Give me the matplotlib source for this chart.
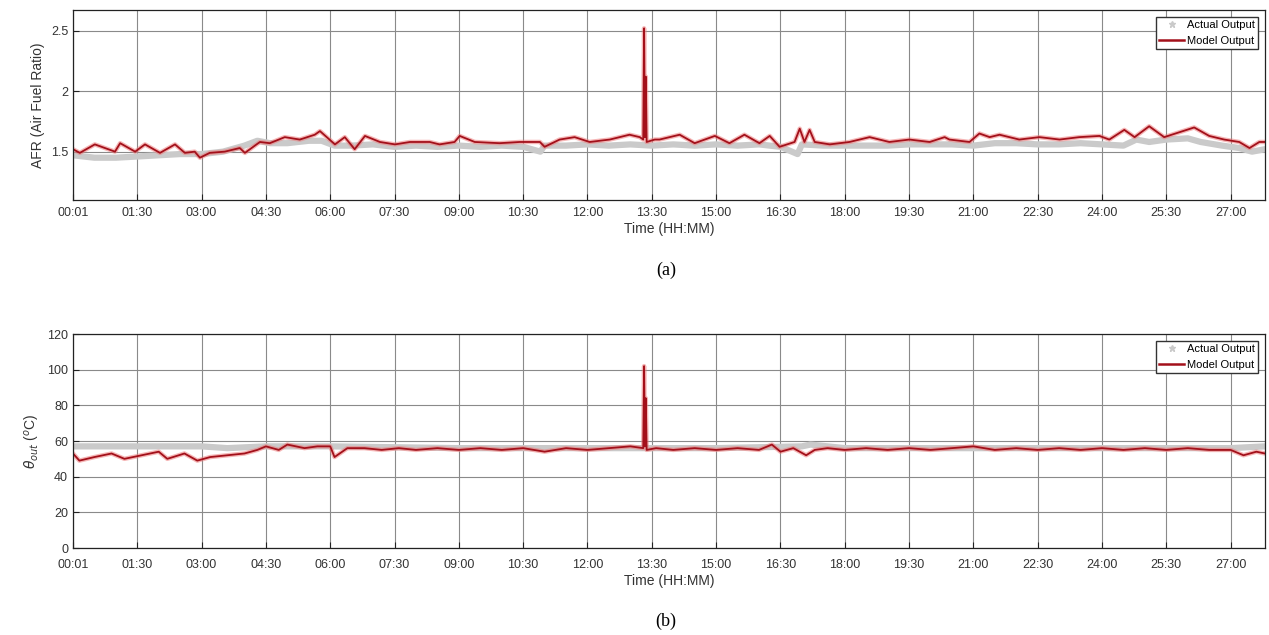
import matplotlib
matplotlib.use('Agg')
import matplotlib.pyplot as plt
from matplotlib.lines import Line2D

plt.rcParams['font.family'] = ['Liberation Sans', 'DejaVu Sans']

# time axis (hours from start)
tick_hours = [0, 1.5, 3, 4.5, 6, 7.5, 9, 10.5, 12, 13.5, 15, 16.5, 18, 19.5, 21, 22.5, 24, 25.5, 27]
tick_labels = ['00:01', '01:30', '03:00', '04:30', '06:00', '07:30', '09:00', '10:30', '12:00',
               '13:30', '15:00', '16:30', '18:00', '19:30', '21:00', '22:30', '24:00', '25:30', '27:00']

# (a) AFR - model output
afr_model_t = [0.0, 0.16, 0.51, 0.98, 1.10, 1.45, 1.68, 2.03, 2.38, 2.61, 2.84, 2.96, 3.19, 3.54,
               3.89, 4.01, 4.36, 4.59, 4.94, 5.29, 5.64, 5.76, 6.11, 6.34, 6.57, 6.81, 7.16, 7.51,
               7.86, 8.32, 8.55, 8.90, 9.02, 9.37, 9.95, 10.42, 10.89, 11.00, 11.35, 11.70, 12.05,
               12.52, 12.98, 13.22, 13.30, 13.32, 13.34, 13.36, 13.38, 13.57, 13.68, 14.15, 14.50,
               14.97, 15.31, 15.66, 16.01, 16.25, 16.48, 16.83, 16.95, 17.06, 17.18, 17.30, 17.65,
               18.11, 18.58, 19.04, 19.51, 19.98, 20.33, 20.44, 20.91, 21.14, 21.38, 21.61, 22.07,
               22.54, 23.01, 23.47, 23.94, 24.17, 24.52, 24.76, 25.10, 25.45, 25.80, 26.15, 26.50,
               26.85, 27.20, 27.44, 27.67, 27.79]
afr_model = [1.52, 1.49, 1.56, 1.50, 1.57, 1.50, 1.56, 1.49, 1.56, 1.49, 1.50, 1.45, 1.49, 1.50,
             1.53, 1.49, 1.58, 1.57, 1.62, 1.60, 1.64, 1.67, 1.56, 1.62, 1.52, 1.63, 1.58, 1.56,
             1.58, 1.58, 1.56, 1.58, 1.63, 1.58, 1.57, 1.58, 1.58, 1.54, 1.60, 1.62, 1.58,
             1.60, 1.64, 1.62, 1.60, 2.52, 1.62, 2.12, 1.58, 1.60, 1.60, 1.64, 1.57,
             1.63, 1.57, 1.64, 1.57, 1.63, 1.54, 1.58, 1.69, 1.58, 1.68, 1.58, 1.56,
             1.58, 1.62, 1.58, 1.60, 1.58, 1.62, 1.60, 1.58, 1.65, 1.62, 1.64, 1.60,
             1.62, 1.60, 1.62, 1.63, 1.60, 1.68, 1.62, 1.71, 1.62, 1.66, 1.70, 1.63,
             1.60, 1.58, 1.53, 1.58, 1.58]

# (a) AFR - actual output
afr_actual_t = [0.0, 0.5, 1.0, 1.5, 2.0, 2.5, 3.0, 3.5, 4.0, 4.3, 4.6, 5.0, 5.5, 5.8, 6.1, 6.5,
                7.0, 7.5, 8.0, 8.5, 9.0, 9.5, 10.0, 10.5, 10.9, 11.0, 11.5, 12.0, 12.5, 13.0,
                13.5, 14.0, 14.5, 15.0, 15.5, 16.0, 16.5, 16.9, 17.0, 17.5, 18.0, 18.5, 19.0,
                19.5, 20.0, 20.5, 21.0, 21.5, 22.0, 22.5, 23.0, 23.5, 24.0, 24.5, 24.8, 25.1,
                25.5, 26.0, 26.3, 26.8, 27.2, 27.5, 27.8]
afr_actual = [1.47, 1.45, 1.45, 1.46, 1.47, 1.48, 1.48, 1.50, 1.55, 1.59, 1.57, 1.57, 1.59, 1.59,
              1.55, 1.55, 1.56, 1.54, 1.55, 1.54, 1.55, 1.54, 1.55, 1.54, 1.50, 1.55, 1.55, 1.56,
              1.55, 1.56, 1.55, 1.56, 1.55, 1.56, 1.55, 1.56, 1.54, 1.48, 1.56, 1.55, 1.55, 1.55,
              1.55, 1.56, 1.56, 1.56, 1.55, 1.57, 1.57, 1.56, 1.56, 1.57, 1.56, 1.55, 1.60, 1.58,
              1.60, 1.61, 1.58, 1.55, 1.53, 1.50, 1.52]

# (b) outlet temperature - model output
temp_model_t = [0.0, 0.15, 0.5, 0.9, 1.2, 1.6, 2.0, 2.2, 2.6, 2.9, 3.2, 3.6, 4.0, 4.3, 4.5, 4.8,
                5.0, 5.4, 5.7, 6.0, 6.1, 6.4, 6.8, 7.2, 7.6, 8.0, 8.5, 9.0, 9.5, 10.0, 10.5, 11.0,
                11.5, 12.0, 12.5, 13.0, 13.30, 13.32, 13.34, 13.36, 13.38, 13.6, 14.0, 14.5, 15.0,
                15.5, 16.0, 16.3, 16.5, 16.8, 17.1, 17.3, 17.6, 18.0, 18.5, 19.0, 19.5, 20.0, 21.0,
                21.5, 22.0, 22.5, 23.0, 23.5, 24.0, 24.5, 25.0, 25.5, 26.0, 26.5, 27.0, 27.3,
                27.6, 27.8]
temp_model = [53, 49, 51, 53, 50, 52, 54, 50, 53, 49, 51, 52, 53, 55, 57, 55,
              58, 56, 57, 57, 51, 56, 56, 55, 56, 55, 56, 55, 56, 55, 56, 54,
              56, 55, 56, 57, 56, 102, 57, 84, 55, 56, 55, 56, 55,
              56, 55, 58, 54, 56, 52, 55, 56, 55, 56, 55, 56, 55, 57,
              55, 56, 55, 56, 55, 56, 55, 56, 55, 56, 55, 55, 52,
              54, 53]

# (b) outlet temperature - actual output
temp_actual_t = [0.0, 1.0, 2.0, 3.0, 3.6, 4.5, 6.0, 9.0, 12.0, 15.0, 17.0, 17.2, 18.0, 21.0,
                 24.0, 27.0, 27.8]
temp_actual = [57, 57, 57, 57, 56, 57, 57, 56, 56, 56, 57, 58, 56, 56, 56, 56, 57]

red = '#a3101a'
halo = '#ee7b7b'
grey = '#cacaca'

fig = plt.figure(figsize=(12.69, 6.35), dpi=100)
ax1 = fig.add_axes([0.0575, 0.685, 0.9393, 0.299])
ax2 = fig.add_axes([0.0575, 0.137, 0.9393, 0.337])


def style(ax, pad):
    ax.set_xlim(0, 27.8)
    ax.set_xticks(tick_hours)
    ax.set_xticklabels(tick_labels)
    ax.grid(True, color='#8a8a8a', lw=0.8)
    ax.set_axisbelow(True)
    ax.tick_params(direction='in', length=4, labelsize=9, labelcolor='#333333', color='#222222')
    ax.tick_params(axis='x', pad=pad)
    for s in ax.spines.values():
        s.set_color('#222222')
        s.set_linewidth(0.9)
    ax.set_xlabel('Time (HH:MM)', fontsize=10, color='#333333', labelpad=2)


handles = [Line2D([], [], color=grey, marker='*', ls='none', markersize=5),
           Line2D([], [], color=red, lw=1.8)]

ax1.plot(afr_actual_t, afr_actual, color=grey, lw=4.5, solid_capstyle='round')
ax1.plot(afr_model_t, afr_model, color=halo, lw=3.2, alpha=0.55)
ax1.plot(afr_model_t, afr_model, color=red, lw=1.3)
style(ax1, 5)
ax1.set_ylim(1.1, 2.67)
ax1.set_yticks([1.5, 2, 2.5])
ax1.set_yticklabels(['1.5', '2', '2.5'])
ax1.set_ylabel('AFR (Air Fuel Ratio)', fontsize=10, color='#333333')
ax1.legend(handles, ['Actual Output', 'Model Output'], loc='upper right', fontsize=8,
           frameon=True, fancybox=False, edgecolor='#333333', borderpad=0.3,
           handlelength=2.2, handletextpad=0.3, borderaxespad=0.6, framealpha=1)

ax2.plot(temp_actual_t, temp_actual, color=grey, lw=4.5, solid_capstyle='round')
ax2.plot(temp_model_t, temp_model, color=halo, lw=3.2, alpha=0.55)
ax2.plot(temp_model_t, temp_model, color=red, lw=1.3)
style(ax2, 8)
ax2.set_ylim(0, 120)
ax2.set_yticks(range(0, 121, 20))
ax2.set_ylabel(r'$\theta_{out}$ ($^{o}$C)', fontsize=10, color='#333333')
ax2.legend(handles, ['Actual Output', 'Model Output'], loc='upper right', fontsize=8,
           frameon=True, fancybox=False, edgecolor='#333333', borderpad=0.3,
           handlelength=2.2, handletextpad=0.3, borderaxespad=0.6, framealpha=1)

fig.text(0.525, 1 - 270 / 635, '(a)', ha='center', va='center', fontsize=13,
         family='Liberation Serif')
fig.text(0.525, 1 - 621 / 635, '(b)', ha='center', va='center', fontsize=13,
         family='Liberation Serif')

fig.savefig('out.png', dpi=100)
